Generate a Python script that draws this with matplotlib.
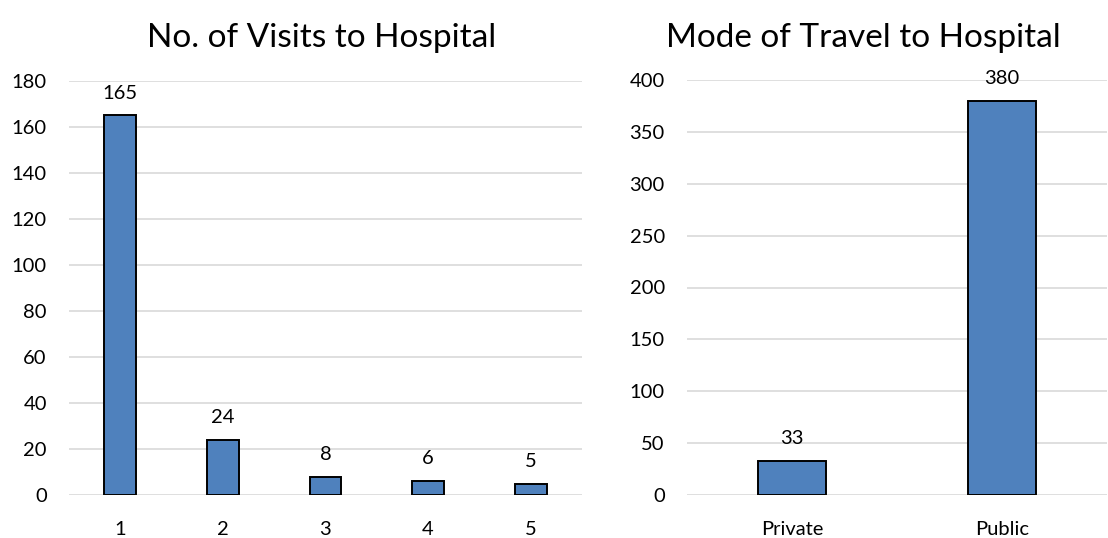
import matplotlib
matplotlib.use("Agg")
import matplotlib.pyplot as plt

visit_counts = ["1", "2", "3", "4", "5"]
visit_values = [165, 24, 8, 6, 5]
travel_modes = ["Private", "Public"]
travel_values = [33, 380]

plt.rcParams["font.family"] = ["Lato", "DejaVu Sans"]

BAR = "#4f81bd"
GRID = "#d9d9d9"

fig = plt.figure(figsize=(11.08, 5.38), dpi=100)
ax1 = fig.add_axes([69 / 1108, 1 - 495 / 538, 513 / 1108, 414 / 538])
ax2 = fig.add_axes([687 / 1108, 1 - 495 / 538, 420 / 1108, 415 / 538])


def style(ax, cats, vals, ymax, step, width):
    x = range(len(cats))
    ax.bar(x, vals, width=width, color=BAR, edgecolor="black", linewidth=1.4, zorder=3)
    for xi, v in zip(x, vals):
        ax.annotate(str(v), (xi, v), xytext=(0, 10), textcoords="offset points",
                    ha="center", va="bottom", fontsize=14.5)
    ax.set_xlim(-0.5, len(cats) - 0.5)
    ax.set_ylim(0, ymax)
    ax.set_yticks(range(0, ymax + 1, step))
    ax.set_xticks(list(x))
    ax.set_xticklabels(cats)
    ax.yaxis.grid(True, color=GRID, linewidth=1.2, zorder=0)
    ax.set_axisbelow(True)
    for s in ax.spines.values():
        s.set_visible(False)
    ax.tick_params(axis="both", length=0, labelsize=14.5)
    ax.tick_params(axis="y", pad=16)
    ax.tick_params(axis="x", pad=19)


style(ax1, visit_counts, visit_values, 180, 20, 0.31)
style(ax2, travel_modes, travel_values, 400, 50, 0.32)

fig.text(322 / 1108, 1 - 38 / 538, "No. of Visits to Hospital", ha="center", va="center", fontsize=24)
fig.text(863 / 1108, 1 - 38 / 538, "Mode of Travel to Hospital", ha="center", va="center", fontsize=24)

fig.savefig("out.png", dpi=100, facecolor="white")
